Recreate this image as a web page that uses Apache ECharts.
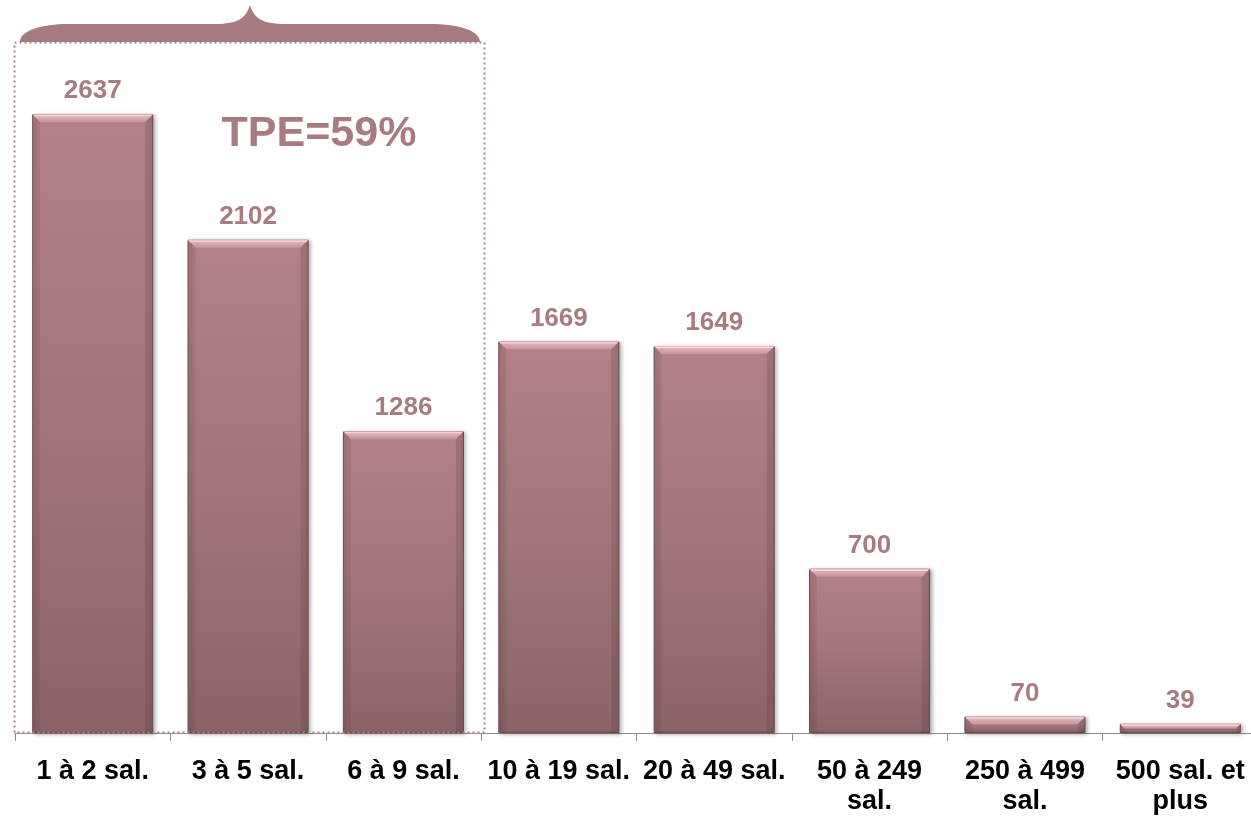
<!DOCTYPE html>
<html><head><meta charset="utf-8">
<script src="https://cdn.jsdelivr.net/npm/echarts@6/dist/echarts.min.js"></script>
<style>html,body{margin:0;padding:0;background:#fff}#c{width:1251px;height:821px}</style>
</head><body><div id="c"></div>
<script>
const categories = ['1 à 2 sal.', '3 à 5 sal.', '6 à 9 sal.', '10 à 19 sal.', '20 à 49 sal.', '50 à 249\nsal.', '250 à 499\nsal.', '500 sal. et\nplus'];
const values = [2637, 2102, 1286, 1669, 1649, 700, 70, 39];
const annotation = 'TPE=59%';

const chart = echarts.init(document.getElementById('c'), null, {renderer: 'canvas'});
const FONT = 'Arial, "Liberation Sans", sans-serif';
chart.setOption({
  animation: false,
  grid: {left: 15, top: 29, width: 1243, bottom: 88, containLabel: false, outerBoundsMode: 'none'},
  xAxis: {
    type: 'category', data: categories, boundaryGap: true,
    axisLine: {lineStyle: {color: '#8c8c8c', width: 1}},
    axisTick: {show: true, length: 8, lineStyle: {color: '#8c8c8c'}},
    axisLabel: {color: '#000', fontSize: 27, fontWeight: 'bold', fontFamily: FONT, lineHeight: 30, margin: 24, interval: 0, hideOverlap: false}
  },
  yAxis: {type: 'value', min: 0, max: 3000, show: false, splitLine: {show: false}},
  series: [{
    type: 'bar', data: values, barWidth: 121,
    itemStyle: {
      color: {type: 'linear', x: 0, y: 0, x2: 0, y2: 1, colorStops: [
        {offset: 0, color: '#b38186'}, {offset: 0.5, color: '#a2767a'}, {offset: 1, color: '#8c6367'}]},
      borderColor: '#6e5053', borderWidth: 1,
      shadowColor: 'rgba(0,0,0,0.3)', shadowBlur: 4, shadowOffsetX: 2, shadowOffsetY: 1
    },
    label: {show: true, position: 'top', distance: 10, color: '#a87b80', fontSize: 26, fontWeight: 'bold', fontFamily: FONT}
  }, {
    type: 'custom', silent: true, z: 5,
    data: values.map((v, i) => [i, v]),
    renderItem: function (params, api) {
      const top = api.coord([api.value(0), api.value(1)]);
      const base = api.coord([api.value(0), 0]);
      const w = 121;
      const x0 = top[0] - w / 2, x1 = top[0] + w / 2, y0 = top[1];
      const h = Math.min(8, (base[1] - y0) / 2);
      return {type: 'group', children: [
        {type: 'polygon', shape: {points: [[x0, y0], [x1, y0], [x1 - h, y0 + h], [x0 + h, y0 + h]]},
         style: {fill: {type: 'linear', x: 0, y: 0, x2: 0, y2: 1, colorStops: [
           {offset: 0, color: '#e9bcc0'}, {offset: 1, color: '#c5959a'}]}}},
        {type: 'line', shape: {x1: x0 + 2, y1: y0 + 1.5, x2: x1 - 2, y2: y0 + 1.5}, style: {stroke: 'rgba(255,235,238,0.8)', lineWidth: 1}},
        {type: 'polygon', shape: {points: [[x0, y0], [x0 + h, y0 + h], [x0 + h, base[1]], [x0, base[1]]]}, style: {fill: 'rgba(90,60,63,0.10)'}},
        {type: 'polygon', shape: {points: [[x1, y0], [x1 - h, y0 + h], [x1 - h, base[1]], [x1, base[1]]]}, style: {fill: 'rgba(70,45,48,0.18)'}}
      ]};
    }
  }, {
    type: 'custom', coordinateSystem: 'none', silent: true, z: 10,
    data: [0],
    renderItem: function () {
      return {type: 'path', shape: {pathData: 'M20,42 C20,31 40,24 70,24 L215,24 C238,24 246,18 250,5 C254,18 262,24 285,24 L430,24 C460,24 480,31 480,42 Z'}, style: {fill: '#a57b7e'}};
    }
  }],
  graphic: [
    {type: 'rect', shape: {x: 14.5, y: 42.5, width: 470, height: 690}, style: {fill: 'none', stroke: '#b07f84', lineWidth: 2, lineDash: [2, 3]}, z: 10},
    {type: 'text', x: 319, y: 134, style: {text: annotation, fill: '#a87b80', font: 'bold 43px ' + FONT, align: 'center', verticalAlign: 'middle'}, z: 10}
  ]
});
</script></body></html>
